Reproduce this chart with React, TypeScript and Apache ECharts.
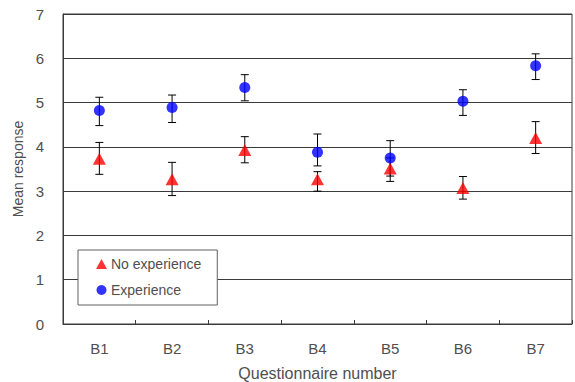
import React, { useEffect, useRef } from "react";
import * as echarts from "echarts";

const categories = ["B1", "B2", "B3", "B4", "B5", "B6", "B7"];
const noExpMean = [3.73, 3.27, 3.93, 3.27, 3.51, 3.07, 4.2];
const noExpLow = [3.38, 2.9, 3.64, 3.0, 3.22, 2.82, 3.85];
const noExpHigh = [4.1, 3.65, 4.23, 3.44, 3.75, 3.33, 4.57];
const expMean = [4.82, 4.89, 5.34, 3.88, 3.75, 5.03, 5.83];
const expLow = [4.48, 4.55, 5.04, 3.57, 3.34, 4.71, 5.52];
const expHigh = [5.12, 5.17, 5.63, 4.29, 4.14, 5.29, 6.1];
const yTicks = [0, 1, 2, 3, 4, 5, 6, 7];

const FONT = "Liberation Sans, Arial, sans-serif";
const TEXT = "#4f4f4f";
const LINE = "#3a3a3a";

function errorSeries(low: number[], high: number[]) {
  return {
    type: "custom",
    z: 1,
    silent: true,
    data: low.map((l, i) => [i, l, high[i]]),
    renderItem: (params: any, api: any) => {
      const x = api.value(0);
      const lo = api.coord([x, api.value(1)]);
      const hi = api.coord([x, api.value(2)]);
      const cap = 4;
      const style = { stroke: "#000", lineWidth: 1 };
      return {
        type: "group",
        children: [
          { type: "line", shape: { x1: lo[0], y1: lo[1], x2: hi[0], y2: hi[1] }, style },
          { type: "line", shape: { x1: lo[0] - cap, y1: lo[1], x2: lo[0] + cap, y2: lo[1] }, style },
          { type: "line", shape: { x1: hi[0] - cap, y1: hi[1], x2: hi[0] + cap, y2: hi[1] }, style },
        ],
      };
    },
  };
}

export default function App() {
  const ref = useRef<HTMLDivElement>(null);
  useEffect(() => {
    if (!ref.current) return;
    const chart = echarts.init(ref.current, undefined, { renderer: "svg" });
    chart.setOption({
      animation: false,
      backgroundColor: "#ffffff",
      textStyle: { fontFamily: FONT },
      grid: {
        left: 63,
        top: 14,
        right: 3,
        bottom: 58,
        containLabel: false,
        outerBoundsMode: "none",
        show: true,
        borderColor: LINE,
        borderWidth: 1,
        backgroundColor: "transparent",
      },
      legend: {
        orient: "vertical",
        left: 78,
        top: 250,
        padding: [7, 16, 8, 18],
        itemGap: 12,
        itemWidth: 11,
        itemHeight: 10,
        borderColor: "#606060",
        borderWidth: 1,
        backgroundColor: "#ffffff",
        selectedMode: false,
        textStyle: { fontFamily: FONT, fontSize: 14, color: TEXT, padding: [0, 0, 0, -1] },
        data: [
          { name: "No experience", icon: "triangle" },
          { name: "Experience", icon: "circle" },
        ],
        z: 10,
      },
      xAxis: {
        type: "category",
        data: categories,
        boundaryGap: true,
        name: "Questionnaire number",
        nameLocation: "middle",
        nameGap: 41,
        nameTextStyle: { fontFamily: FONT, fontSize: 16, color: TEXT, lineHeight: 16 },
        axisLine: { show: true, lineStyle: { color: LINE, width: 1 } },
        axisTick: { show: true, inside: true, length: 4, lineStyle: { color: LINE } },
        axisLabel: { fontFamily: FONT, fontSize: 15, color: TEXT, margin: 17 },
        splitLine: { show: false },
      },
      yAxis: {
        type: "value",
        min: yTicks[0],
        max: yTicks[yTicks.length - 1],
        interval: 1,
        name: "Mean response",
        nameLocation: "middle",
        nameGap: 35,
        nameTextStyle: { fontFamily: FONT, fontSize: 14, color: TEXT },
        axisLine: { show: true, lineStyle: { color: LINE, width: 1 } },
        axisTick: { show: false },
        axisLabel: { fontFamily: FONT, fontSize: 15, color: TEXT, margin: 19 },
        splitLine: { show: true, lineStyle: { color: LINE, width: 1 } },
      },
      series: [
        errorSeries(noExpLow, noExpHigh),
        errorSeries(expLow, expHigh),
        {
          name: "No experience",
          type: "scatter",
          symbol: "triangle",
          symbolSize: [13, 12],
          itemStyle: { color: "#ff0000" },
          data: noExpMean,
          z: 3,
        },
        {
          name: "Experience",
          type: "scatter",
          symbol: "circle",
          symbolSize: 11,
          itemStyle: { color: "#0000ff" },
          data: expMean,
          z: 4,
        },
      ],
    });
    return () => chart.dispose();
  }, []);
  return (
    <div
      ref={ref}
      style={{ position: "fixed", left: 0, top: 0, width: 575, height: 382, background: "#fff" }}
    />
  );
}
